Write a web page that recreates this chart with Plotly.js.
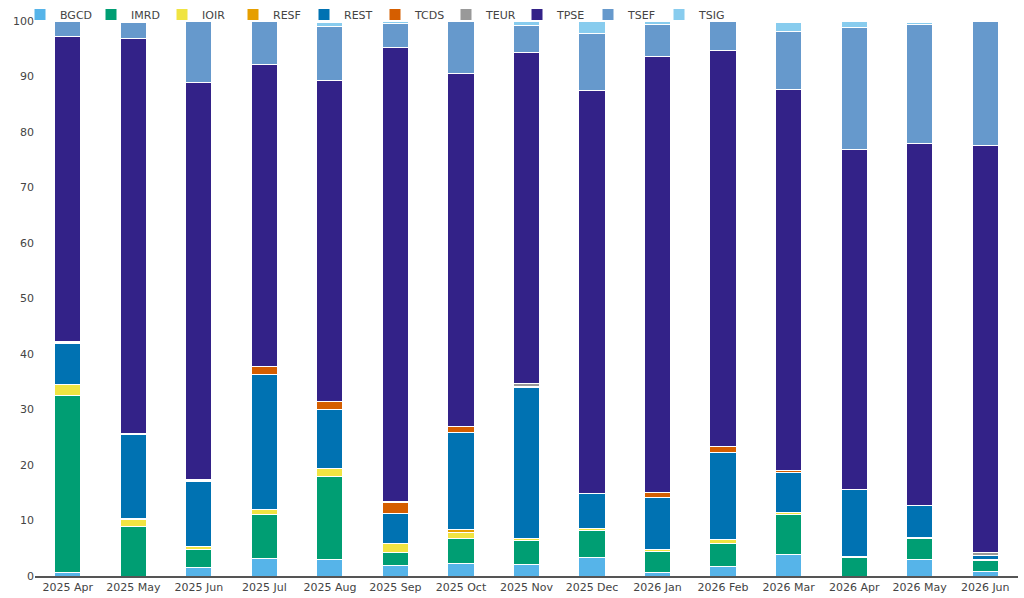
<!DOCTYPE html>
<html>
<head>
<meta charset="utf-8">
<script src="https://cdn.plot.ly/plotly-3.0.1.min.js"></script>
<style>
	html, body { margin: 0; padding: 0; background: #fff; }
	#plot { width: 1024px; height: 598px; }
</style>
</head>
<body>
<div id="plot"></div>
<script>
const months = [
	"2025 Apr", "2025 May", "2025 Jun", "2025 Jul", "2025 Aug",
	"2025 Sep", "2025 Oct", "2025 Nov", "2025 Dec", "2026 Jan",
	"2026 Feb", "2026 Mar", "2026 Apr", "2026 May", "2026 Jun"
];

const BGCD = [0.7, 0, 1.5, 3.2, 3.0, 1.9, 2.3, 2.1, 3.4, 0.7, 1.75, 3.85, 0, 3.06, 0.85];
const IMRD = [31.9, 8.9, 3.3, 7.8, 15.0, 2.3, 4.4, 4.3, 4.8, 3.8, 4.15, 7.2, 3.4, 3.7, 1.9];
const IOIR = [1.9, 1.2, 0.5, 1.0, 1.4, 1.6, 1.1, 0.3, 0.4, 0.3, 0.6, 0.35, 0.15, 0.15, 0.25];
const RESF = [0, 0.3, 0, 0, 0, 0, 0.5, 0, 0, 0, 0, 0, 0, 0, 0];
const REST = [7.4, 15.1, 11.7, 24.3, 10.6, 5.4, 17.6, 27.2, 6.3, 9.4, 15.8, 7.2, 12.0, 5.75, 0.7];
const TCDS = [0.2, 0.1, 0.15, 1.4, 1.5, 2.1, 1.0, 0.3, 0, 0.8, 1.1, 0.4, 0, 0, 0];
const TEUR = [0.2, 0.1, 0.15, 0.1, 0, 0.1, 0, 0.4, 0, 0, 0, 0, 0, 0, 0.55];
const TPSE = [55.0, 71.2, 71.6, 54.3, 57.7, 81.8, 63.7, 59.8, 72.5, 78.6, 71.2, 68.6, 61.35, 65.3, 73.4];
const TSEF = [2.7, 2.9, 11.0, 7.8, 9.8, 4.3, 9.3, 4.8, 10.4, 5.8, 5.3, 10.5, 22.0, 21.5, 22.2];
const TSIG = [0, 0.2, 0, 0, 0.8, 0.4, 0, 0.7, 2.1, 0.5, 0, 1.7, 1.0, 0.35, 0.05];

const series = [
	{ name: "BGCD", values: BGCD, color: "#56B4E9" },
	{ name: "IMRD", values: IMRD, color: "#009E73" },
	{ name: "IOIR", values: IOIR, color: "#F0E442" },
	{ name: "RESF", values: RESF, color: "#E69F00" },
	{ name: "REST", values: REST, color: "#0072B2" },
	{ name: "TCDS", values: TCDS, color: "#D55E00" },
	{ name: "TEUR", values: TEUR, color: "#999999" },
	{ name: "TPSE", values: TPSE, color: "#332288" },
	{ name: "TSEF", values: TSEF, color: "#6699CC" },
	{ name: "TSIG", values: TSIG, color: "#88CCEE" },
];

const plotData = series.map((s) => ({
	x: months,
	y: s.values,
	type: "bar",
	name: s.name,
	marker: { color: s.color, line: { color: "#ffffff", width: 1 } },
}));

// legend sits inside the paper area above the bars, so no margin push
const layout = {
	barmode: "stack",
	bargap: 0.6,
	width: 1024,
	height: 598,
	margin: { l: 20, r: 6, t: 0, b: 22 },
	paper_bgcolor: "#ffffff",
	plot_bgcolor: "#ffffff",
	font: { family: "DejaVu Sans, Verdana, sans-serif", size: 11, color: "#444" },
	showlegend: true,
	legend: {
		orientation: "h",
		x: 0,
		xanchor: "left",
		y: 1.0,
		yanchor: "top",
		entrywidth: 26,
		traceorder: "normal",
		bgcolor: "rgba(0,0,0,0)",
		font: { size: 11, color: "#444" },
	},
	xaxis: {
		type: "category",
		domain: [0.015, 1],
		showline: true,
		linecolor: "#555",
		linewidth: 1.5,
		showgrid: false,
		ticks: "",
		tickfont: { size: 11 },
	},
	yaxis: {
		domain: [0, 0.9635],
		range: [0, 100],
		tickvals: [0, 10, 20, 30, 40, 50, 60, 70, 80, 90, 100],
		showgrid: false,
		zeroline: false,
		showline: false,
		ticks: "",
		tickfont: { size: 11 },
	},
};

Plotly.newPlot("plot", plotData, layout, { displayModeBar: false, staticPlot: true });
</script>
</body>
</html>
